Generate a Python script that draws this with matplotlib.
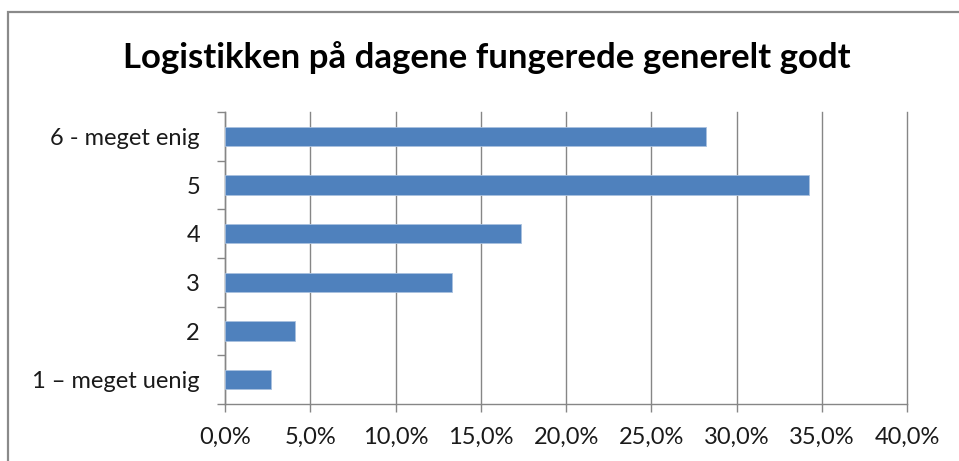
import numpy as np
import matplotlib
matplotlib.use("Agg")
import matplotlib.pyplot as plt
from matplotlib.patches import Rectangle
from matplotlib.ticker import FuncFormatter, FixedLocator

# ================= 数据 =================
categories = ["1 – meget uenig", "2", "3", "4", "5", "6 - meget enig"]
shares = [0.027, 0.041, 0.133, 0.1735, 0.3425, 0.282]
x_ticks = [0.0, 0.05, 0.10, 0.15, 0.20, 0.25, 0.30, 0.35, 0.40]
title = "Logistikken på dagene fungerede generelt godt"

# ================= 样式 =================
plt.rcParams['font.family'] = ['Lato', 'DejaVu Sans']
BAR_COLOR = '#4f81bd'
GRID_COLOR = '#868686'
TXT_COLOR = '#1a1a1a'

fig = plt.figure(figsize=(9.59, 4.61), dpi=100)
ax = fig.add_axes([0.2346, 0.1236, 0.7115, 0.6334])

# 外框 (截图只露出左、上两条边)
fig.patches.append(Rectangle((8 / 959, -0.2), 1.2, (461 - 12) / 461 + 0.2,
                             transform=fig.transFigure, fill=False,
                             edgecolor='#8a8a8a', linewidth=1.6))

pos = np.arange(len(categories))
ax.barh(pos, shares, height=0.4, color=BAR_COLOR, edgecolor='#a9c1df',
        linewidth=0.6, zorder=3)

ax.set_xlim(0, 0.40)
ax.set_ylim(-0.5, len(categories) - 0.5)

# 竖直网格线
ax.xaxis.set_major_locator(FixedLocator(x_ticks))
ax.grid(axis='x', color=GRID_COLOR, linewidth=1.0, zorder=0)
ax.set_axisbelow(True)
for gl in ax.get_xgridlines():
    gl.set_clip_on(False)  # 40% 那条线在边界上, 不裁掉
ax.xaxis.set_major_formatter(FuncFormatter(lambda v, p: f"{v * 100:.1f}%".replace('.', ',')))

# 类别刻度在分界处, 标签在中心
ax.yaxis.set_major_locator(FixedLocator(np.arange(-0.5, len(categories), 1.0)))
ax.yaxis.set_major_formatter(FuncFormatter(lambda v, p: ""))
ax.yaxis.set_minor_locator(FixedLocator(pos))
ax.set_yticklabels(categories, minor=True)

ax.tick_params(axis='x', length=5.5, width=1, color=GRID_COLOR, pad=11,
               labelsize=17, labelcolor=TXT_COLOR)
ax.tick_params(axis='y', which='major', length=6, width=1, color=GRID_COLOR)
ax.tick_params(axis='y', which='minor', length=0, pad=18, labelsize=17,
               labelcolor=TXT_COLOR)

for s in ['top', 'right']:
    ax.spines[s].set_visible(False)
for s in ['left', 'bottom']:
    ax.spines[s].set_color(GRID_COLOR)
    ax.spines[s].set_linewidth(1.0)

fig.text(487 / 959, 1 - 58 / 461, title, ha='center', va='center',
         fontsize=25, fontweight='bold', color='black')

fig.savefig("out.png", dpi=100)
